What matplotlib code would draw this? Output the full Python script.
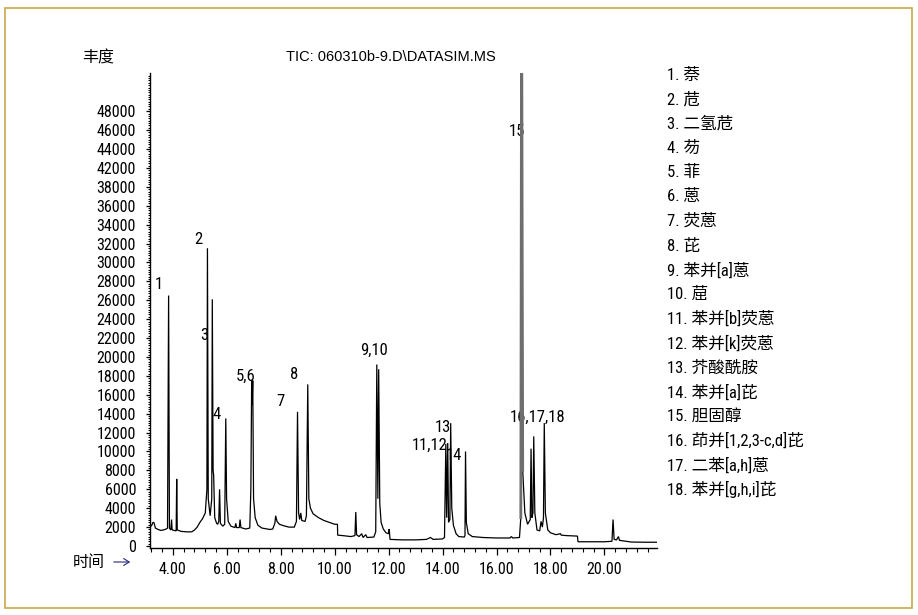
import matplotlib
matplotlib.use("Agg")
import matplotlib.pyplot as plt
from matplotlib import font_manager as fm
from matplotlib.patches import Rectangle, FancyArrowPatch
import numpy as np

# ---- TIC trace: retention time (min) and abundance ----
rt = [3.15, 3.20, 3.26, 3.30, 3.35, 3.45, 3.55, 3.65, 3.75, 3.80, 3.84, 3.87, 3.92, 3.95, 3.97,
      4.12, 4.14, 4.16, 4.30, 4.50, 4.70, 4.80, 4.90, 5.00, 5.10, 5.20, 5.26, 5.28, 5.31, 5.38,
      5.44, 5.46, 5.49, 5.51, 5.55, 5.62, 5.66, 5.70, 5.73, 5.76, 5.85, 5.92, 5.96, 5.99, 6.05,
      6.15, 6.30, 6.33, 6.36, 6.46, 6.49, 6.52, 6.70, 6.85, 6.89, 6.92, 6.94, 6.96, 6.99, 7.05,
      7.15, 7.30, 7.50, 7.60, 7.70, 7.78, 7.81, 7.86, 7.95, 8.10, 8.30, 8.50, 8.58, 8.62, 8.66,
      8.70, 8.74, 8.78, 8.90, 8.95, 9.00, 9.04, 9.10, 9.20, 9.40, 9.60, 9.80, 10.00, 10.10, 10.11,
      10.30, 10.60, 10.75, 10.78, 10.81, 10.90, 11.00, 11.05, 11.15, 11.20, 11.45, 11.52, 11.56, 11.60, 11.63,
      11.67, 11.72, 11.80, 11.90, 12.00, 12.02, 12.05, 12.50, 13.00, 13.40, 13.55, 13.65, 14.00, 14.07, 14.12,
      14.15, 14.19, 14.22, 14.27, 14.30, 14.34, 14.40, 14.50, 14.60, 14.80, 14.83, 14.85, 14.88, 14.95, 15.10,
      15.50, 16.00, 16.50, 16.55, 16.60, 16.85, 16.90, 16.93, 16.97, 17.05, 17.15, 17.25, 17.28, 17.31, 17.35,
      17.38, 17.42, 17.50, 17.60, 17.65, 17.70, 17.74, 17.77, 17.81, 17.90, 18.00, 18.20, 18.37, 18.40, 18.60,
      19.00, 19.02, 19.50, 20.00, 20.28, 20.32, 20.36, 20.45, 20.52, 20.56, 21.00, 21.50, 21.95]
abundance = [2300, 2100, 2500, 2450, 1900, 1750, 1650, 1700, 1800, 1900, 26500, 1900, 1700, 2800, 1700,
             1600, 7100, 1700, 1550, 1500, 1500, 1700, 2000, 2500, 2900, 3500, 6000, 31500, 5000, 3200,
             5000, 26100, 8000, 7500, 3000, 2400, 2300, 2600, 6000, 2400, 2100, 2300, 13500, 5000, 2600,
             2100, 1950, 2400, 1950, 1950, 2800, 1950, 1800, 1900, 6000, 17500, 15000, 17500, 5000, 3000,
             2200, 1900, 1800, 1750, 1800, 2400, 3200, 2600, 2300, 2150, 2000, 2000, 2600, 14200, 3500,
             2800, 3500, 2700, 2600, 3200, 17100, 5000, 4000, 3400, 3000, 2700, 2500, 2300, 2300, 1150,
             1100, 1000, 1100, 3600, 1200, 1000, 1300, 900, 1200, 900, 950, 1500, 19200, 5000, 18700,
             4500, 2500, 1800, 1400, 1300, 1800, 700, 650, 650, 700, 900, 700, 750, 900, 10800,
             3000, 10900, 2500, 2800, 13000, 4000, 2200, 1300, 1000, 950, 1100, 10000, 2500, 1300, 1000,
             900, 850, 850, 1000, 850, 900, 3000, 60000, 8000, 3500, 2300, 2800, 10300, 3000, 3500,
             11600, 3500, 1700, 1600, 2600, 2000, 3000, 13000, 3500, 1700, 1400, 1200, 1300, 1150, 1100,
             1050, 450, 450, 450, 500, 2800, 700, 650, 1000, 600, 420, 400, 400]

# peak 15 (cholesterol) segment, drawn in grey
rt_15 = [16.90, 16.93, 16.97]
abundance_15 = [3000, 60000, 8000]

# peak labels and where they sit
peak_labels = ["1", "2", "3", "4", "5,6", "7", "8", "9,10", "11,12", "13", "14", "15", "16,17,18"]
label_rt = [3.48, 4.93, 5.15, 5.63, 6.70, 8.00, 8.48, 11.44, 13.52, 14.00, 14.43, 16.74, 17.52]
label_ab = [27700, 32400, 22300, 13900, 18000, 15300, 18100, 20700, 10600, 12500, 9600, 43800, 13650]

# compound list
compounds = ["萘", "苊", "二氢苊", "芴", "菲", "蒽", "荧蒽", "芘", "苯并[a]蒽", "䓛",
             "苯并[b]荧蒽", "苯并[k]荧蒽", "芥酸酰胺", "苯并[a]芘", "胆固醇",
             "茚并[1,2,3-c,d]芘", "二苯[a,h]蒽", "苯并[g,h,i]芘"]

# y tick labels as printed on the axis
y_tick_values = list(range(0, 48000, 2000))
y_tick_labels = ["0", "2000", "4000", "6000", "8000", "10000", "12000", "14000", "16000",
                 "18000", "20000", "22000", "24000", "26000", "28000", "30000", "32000",
                 "34000", "36000", "38000", "42000", "44000", "46000", "48000"]
x_major = [4, 6, 8, 10, 12, 14, 16, 18, 20]
x_tick_labels = ["4.00", "6.00", "8.00", "10.00", "12.00", "14.00", "16.00", "18.00", "20.00"]

# condensed face for the Latin text, CJK face as fallback
_installed = {f.name for f in fm.fontManager.ttflist}
_narrow = next((n for n in ["Roboto Condensed", "Archivo Narrow", "PT Sans Narrow",
                            "Liberation Sans Narrow", "Liberation Sans"] if n in _installed),
               "DejaVu Sans")
plt.rcParams['font.family'] = [_narrow, 'Noto Sans CJK SC', 'DejaVu Sans']
CJK = ['Noto Sans CJK SC', 'DejaVu Sans']

W, H = 918, 615
fig = plt.figure(figsize=(W / 100, H / 100), dpi=100)
fig.patch.set_facecolor("white")

ax = fig.add_axes([150 / W, 1 - 548 / H, (657 - 150) / W, (548 - 73) / H])
ax.plot(rt, abundance, color="black", lw=0.9, solid_joinstyle="miter")
ax.plot(rt_15, abundance_15, color="#6e6e6e", lw=2.0)
ax.set_xlim(3.15, 21.95)
ax.set_ylim(-210, 50040)

for s in ("top", "right"):
    ax.spines[s].set_visible(False)
for s in ("left", "bottom"):
    ax.spines[s].set_linewidth(1.0)

ax.set_xticks(x_major)
ax.set_xticklabels(x_tick_labels, fontsize=11.5)
ax.set_xticks(np.arange(3.2, 21.95, 0.4), minor=True)
ax.tick_params(axis="x", which="major", length=5, width=0.9, pad=5)
ax.tick_params(axis="x", which="minor", length=3, width=0.8)

ax.set_yticks(y_tick_values)
ax.set_yticklabels(y_tick_labels, fontsize=11.5)
ax.set_yticks(np.arange(0, 50000, 250), minor=True)
ax.tick_params(axis="y", which="major", length=3, width=0.9, pad=7)
ax.tick_params(axis="y", which="minor", length=1.5, width=0.7)

for lab, x, y in zip(peak_labels, label_rt, label_ab):
    ax.text(x, y, lab, fontsize=12, ha="center", va="center", zorder=1)

# headers
fig.text(391 / W, 1 - 57 / H, "TIC: 060310b-9.D\\DATASIM.MS",
         family=["Liberation Sans", "DejaVu Sans"], fontsize=10.5, ha="center", va="center")
fig.text(82 / W, 1 - 58 / H, "丰度", family=CJK, fontsize=11.5, ha="left", va="center")
fig.text(73 / W, 1 - 562 / H, "时间", family=CJK, fontsize=11.5, ha="left", va="center")
fig.add_artist(FancyArrowPatch(
    (111 / W, 1 - 562 / H), (133 / W, 1 - 562 / H), transform=fig.transFigure,
    arrowstyle="->,head_length=4,head_width=2.5", color="#28287a", lw=0.8))

# compound key
for i, name in enumerate(compounds):
    fig.text(667 / W, 1 - (75 + 24.4 * i) / H, f"{i + 1}. {name}", fontsize=12,
             ha="left", va="center")

# frame
fig.add_artist(Rectangle((5 / W, 1 - 608 / H), 907 / W, 600 / H, transform=fig.transFigure,
                         fill=False, edgecolor="#c9a94a", lw=1.2))

fig.savefig("out.png", dpi=100)
